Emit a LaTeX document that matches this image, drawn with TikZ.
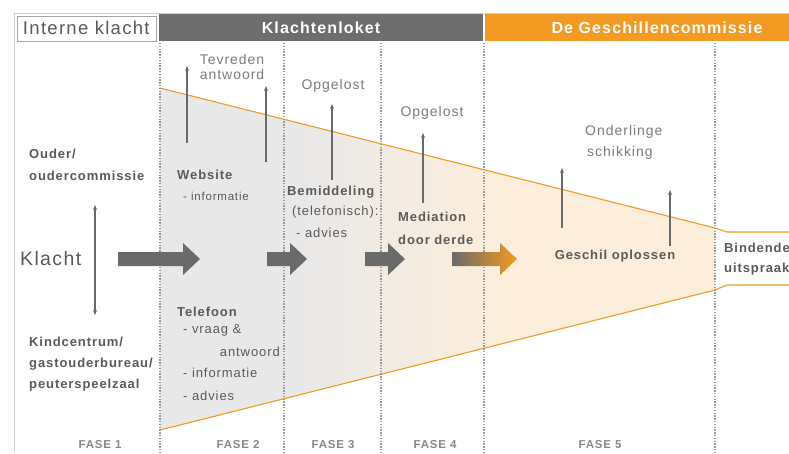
\documentclass[tikz,border=0pt]{standalone}
\usepackage{fontspec}
\setmainfont{Liberation Sans}[LetterSpace=7]
\usetikzlibrary{arrows.meta}
\definecolor{tgray}{HTML}{5A5A5A}
\definecolor{lgray}{HTML}{7C7C7C}
\definecolor{bargray}{HTML}{6E6E6E}
\definecolor{arrgray}{HTML}{6A6A6A}
\definecolor{orng}{HTML}{F39A22}
\definecolor{fgray}{HTML}{E8E8E8}
\definecolor{forng}{HTML}{FDEEDC}
\definecolor{dotgray}{HTML}{9A9A9A}
\definecolor{fasegray}{HTML}{888888}
\pgfdeclarehorizontalshading{funnelshade}{100bp}{color(0bp)=(fgray); color(25bp)=(fgray); color(37bp)=(fgray); color(56bp)=(forng); color(75bp)=(forng); color(100bp)=(forng)}
\tikzset{
  lbl/.style={font=\fontsize{13}{15}\selectfont\bfseries, text=tgray, inner sep=0pt},
  lbllight/.style={font=\fontsize{14}{15.5}\selectfont, text=lgray, inner sep=0pt},
  small/.style={font=\fontsize{13}{15}\selectfont, text=tgray, inner sep=0pt},
  smaller/.style={font=\fontsize{11.5}{13}\selectfont, text=tgray, inner sep=0pt},
  fase/.style={font=\fontsize{11.5}{13}\selectfont\bfseries, text=fasegray, inner sep=0pt},
  bartext/.style={font=\fontsize{16}{18}\selectfont\bfseries, text=white, inner sep=0pt},
  divider/.style={draw=dotgray, line width=1.1pt, dash pattern=on 1.4pt off 1.4pt},
  uparrow/.style={draw=arrgray, line width=1.4pt, -{Stealth[length=5pt,width=4pt]}},
  funnelline/.style={draw=orng, line width=1.1pt},
}
\begin{document}
\begin{tikzpicture}[x=1pt,y=-1pt]
\useasboundingbox (0,0) rectangle (789,453);
\fill[white] (0,0) rectangle (789,453);
% frame
\draw[draw=black!20, line width=0.8pt] (14,453) -- (14,13.5) -- (789,13.5);
% header bars
\node[draw=black!35, line width=0.6pt, fill=white, minimum width=139pt, minimum height=25pt, anchor=north west, inner sep=0pt,
      font=\fontsize{18.5}{20}\selectfont, text=tgray] (intern) at (16.5,15.5) {Interne klacht};
\fill[bargray] (159,14) rectangle (483,41);
\fill[orng] (485,14) rectangle (789,41);
\node[bartext] (loket) at (321,28) {Klachtenloket};
\node[bartext] (gesch) at (657,28) {De Geschillencommissie};
% funnel fill
\path[shading=funnelshade] (160,88) -- (715,228) -- (715,290) -- (160,430) -- cycle;
\fill[white] (715,228) -- (727,232) -- (789,232) -- (789,285) -- (727,285) -- (715,290) -- cycle;
\draw[funnelline] (160,88) -- (715,228) -- (727,232) -- (789,232);
\draw[funnelline] (160,430) -- (715,290) -- (727,285) -- (789,285);
% dividers
\foreach \x in {160,284,381,484,715} \draw[divider] (\x,43) -- (\x,453);
% block arrows
\foreach \a/\b/\c in {118/183/200, 267/290/307, 365/388/405}
  \fill[arrgray] (\a,252) -- (\b,252) -- (\b,243) -- (\c,259) -- (\b,275) -- (\b,266) -- (\a,266) -- cycle;
\path[left color=arrgray, right color=orng] (452,252) -- (500,252) -- (500,243) -- (517,259) -- (500,275) -- (500,266) -- (452,266) -- cycle;
% fase 1 texts
\node[lbl, anchor=west] (ouder1) at (29,154) {Ouder/};
\node[lbl, anchor=west] (ouder2) at (29,176) {oudercommissie};
\node[font=\fontsize{19.5}{21}\selectfont, text=tgray, inner sep=0pt, anchor=west] (klacht) at (20,259) {Klacht};
\node[lbl, anchor=west] (kind1) at (29,342) {Kindcentrum/};
\node[lbl, anchor=west] (kind2) at (29,364) {gastouderbureau/};
\node[lbl, anchor=west] (kind3) at (29,385) {peuterspeelzaal};
\coordinate (f1top) at (95,205);
\coordinate (f1bot) at (95,315);
\draw[draw=arrgray, line width=1.2pt, {Stealth[length=5pt,width=4pt]}-{Stealth[length=5pt,width=4pt]}] (f1top) -- (f1bot);
% fase 2
\node[lbllight, align=center] (tevreden) at (232,67) {Tevreden\\antwoord};
\node[lbl, anchor=west] (website) at (177,175) {Website};
\node[smaller, anchor=west] (webinfo) at (183,196) {- informatie};
\node[lbl, anchor=west] (telefoon) at (177,312) {Telefoon};
\node[small, anchor=west] (tel1) at (183,330) {- vraag \&};
\node[small, anchor=east] (tel2) at (280,352) {antwoord};
\node[small, anchor=west] (tel3) at (183,373) {- informatie};
\node[small, anchor=west] (tel4) at (183,396) {- advies};
\coordinate (a1s) at (187,143); \coordinate (a1e) at (187,66);
\coordinate (a2s) at (266,162); \coordinate (a2e) at (266,86);
\draw[uparrow] (a1s) -- (a1e);
\draw[uparrow] (a2s) -- (a2e);
% fase 3
\node[lbllight] (opg1) at (333,86) {Opgelost};
\node[lbl, anchor=west] (bemid) at (287,192) {Bemiddeling};
\node[small, anchor=west] (telef) at (292,212) {(telefonisch):};
\node[small, anchor=west] (advies3) at (296,233) {- advies};
\coordinate (a3s) at (332,180); \coordinate (a3e) at (332,104);
\draw[uparrow] (a3s) -- (a3e);
% fase 4
\node[lbllight] (opg2) at (432,113) {Opgelost};
\node[lbl, anchor=west] (med1) at (398,217) {Mediation};
\node[lbl, anchor=west] (med2) at (398,240) {door derde};
\coordinate (a4s) at (423,203); \coordinate (a4e) at (423,133);
\draw[uparrow] (a4s) -- (a4e);
% fase 5
\node[lbllight, anchor=west] (onder1) at (585,132) {Onderlinge};
\node[lbllight, anchor=west] (onder2) at (587,153) {schikking};
\node[lbl] (geschil) at (615,256) {Geschil oplossen};
\coordinate (a5s) at (562,228); \coordinate (a5e) at (562,168);
\coordinate (a6s) at (670,246); \coordinate (a6e) at (670,190);
\draw[uparrow] (a5s) -- (a5e);
\draw[uparrow] (a6s) -- (a6e);
% bindende uitspraak
\node[lbl, anchor=west] (bind1) at (724,248) {Bindende};
\node[lbl, anchor=west] (bind2) at (724,269) {uitspraak};
% fase labels
\node[fase] (fase1) at (100,445) {FASE 1};
\node[fase] (fase2) at (238,445) {FASE 2};
\node[fase] (fase3) at (333,445) {FASE 3};
\node[fase] (fase4) at (435,445) {FASE 4};
\node[fase] (fase5) at (600,445) {FASE 5};
\end{tikzpicture}
\end{document}
